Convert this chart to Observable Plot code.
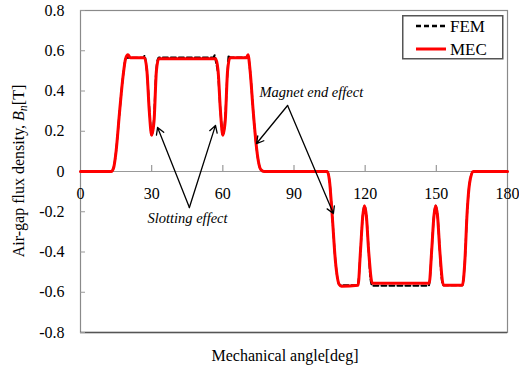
<!DOCTYPE html>
<html>
<head>
<meta charset="utf-8">
<script src="https://cdn.jsdelivr.net/npm/d3@7"></script>
<script src="https://cdn.jsdelivr.net/npm/@observablehq/plot@0.6"></script>
<style>
  html, body { margin: 0; padding: 0; background: #fff; }
  #wrap { position: relative; width: 519px; height: 370px; font-family: "Liberation Serif", "Times New Roman", serif; }
  #legend { position: absolute; left: 402px; top: 15px; }
</style>
</head>
<body>
<div id="wrap"></div>
<script>
// ---- data ----
const mecAngle = [0,13,14,15,16.5,18,19,20,21,27,28,29,30,31,32,33,57,58,59,60,61,62,63,70,70.6,71.5,72.8,74,75,76,77.5,104,105,106,107.5,109,110,117,118,119,119.7,120.5,121.5,123,147,148,149,149.7,150.5,151.5,153,161,162,163,164,165.5,180];
const mecValue = [0,0,0.02,0.1,0.3,0.48,0.56,0.58,0.565,0.565,0.5,0.3,0.18,0.25,0.5,0.56,0.56,0.5,0.3,0.18,0.25,0.5,0.565,0.565,0.58,0.5,0.3,0.14,0.05,0.01,0,0,-0.05,-0.2,-0.45,-0.56,-0.57,-0.565,-0.4,-0.22,-0.17,-0.22,-0.4,-0.555,-0.555,-0.4,-0.22,-0.17,-0.22,-0.4,-0.565,-0.565,-0.45,-0.2,-0.06,0,0];
const femAngle = [0,13,14,15,16.5,18,19,20,26.6,27,27.5,28.3,29.2,30,31,31.8,32.5,33,56,56.6,57,58,59,60,61,62,62.5,63,70,70.6,71.5,72.8,74,75,76,77.5,104,105,106,107.5,109,110,116.8,117.3,118,119,119.7,120.5,121.5,122.2,123,146.8,147.3,148,149,149.7,150.5,151.5,152.2,153,161,162,163,164,165.5,180];
const femValue = [0,0,0.02,0.1,0.3,0.48,0.56,0.565,0.565,0.575,0.55,0.45,0.28,0.18,0.27,0.48,0.555,0.566,0.566,0.578,0.55,0.48,0.3,0.18,0.27,0.5,0.578,0.566,0.566,0.575,0.5,0.3,0.14,0.05,0.01,0,0,-0.05,-0.2,-0.45,-0.56,-0.565,-0.565,-0.53,-0.4,-0.22,-0.17,-0.22,-0.4,-0.53,-0.568,-0.568,-0.53,-0.4,-0.22,-0.17,-0.22,-0.4,-0.53,-0.565,-0.565,-0.45,-0.2,-0.06,0,0];
const xTicks = [0,30,60,90,120,150,180];
const yTicks = [-0.8,-0.6,-0.4,-0.2,0,0.2,0.4,0.6,0.8];
const seriesNames = ["FEM","MEC"];
const xTitle = "Mechanical angle[deg]";
const yTitle = ["Air-gap flux density, ", "B", "n", "[T]"];
// annotations (data units)
const slotText = "Slotting effect";
const slotApex = [45.9, -0.179];
const slotTips = [[32.5, 0.219],[56.9, 0.229]];
const slotTextPos = [45.1, -0.232];
const magText = "Magnet end effect";
const magApex = [87.3, 0.328];
const magTips = [[74.2, 0.139],[106.6, -0.209]];
const magTextPos = [97.3, 0.393];

const mec = mecAngle.map((a,i)=>({a, v: mecValue[i]}));
const fem = femAngle.map((a,i)=>({a, v: femValue[i]}));

const plot = Plot.plot({
  width: 519, height: 370,
  marginLeft: 80, marginRight: 12, marginTop: 10, marginBottom: 38,
  style: {fontFamily: "'Liberation Serif', 'Times New Roman', serif", fontSize: "16px", background: "#fff", color: "#000"},
  x: {domain: [0,180], axis: null, label: null},
  y: {domain: [-0.8,0.8], label: null},
  marks: [
    Plot.frame({stroke: "#8a8a8a", strokeWidth: 1.2}),
    Plot.ruleY([-0.8], {stroke: "#555", strokeWidth: 1.6}),
    Plot.ruleY([0], {stroke: "#999", strokeWidth: 1.2}),
    Plot.ruleX(xTicks.slice(1,-1), {x: d=>d, y1: 0, y2: 0.03, stroke: "#999", strokeWidth: 1.2}),
    Plot.text(xTicks, {x: d=>d, y: 0, dy: 22, text: d=>String(d), fill: "#000", fontSize: 16}),
    Plot.axisY(yTicks, {tickSize: -5, tickPadding: 21, stroke: "#999", tickFormat: d => d === 0 ? "0" : d.toFixed(1), fontSize: 16, fill: "#000", label: null}),
    Plot.line(fem, {x: "a", y: "v", stroke: "#000", strokeWidth: 2, strokeDasharray: "5,3", curve: "monotone-x"}),
    Plot.line(mec, {x: "a", y: "v", stroke: "#ff0000", strokeWidth: 3, curve: "monotone-x"}),
    Plot.arrow(slotTips, {x1: () => slotApex[0], y1: () => slotApex[1], x2: d=>d[0], y2: d=>d[1], stroke: "#000", strokeWidth: 1.3, headLength: 9}),
    Plot.arrow(magTips, {x1: () => magApex[0], y1: () => magApex[1], x2: d=>d[0], y2: d=>d[1], stroke: "#000", strokeWidth: 1.3, headLength: 9}),
    Plot.text([slotText], {x: () => slotTextPos[0], y: () => slotTextPos[1], text: d=>d, fontStyle: "italic", fontSize: 14.5, fill: "#000"}),
    Plot.text([magText], {x: () => magTextPos[0], y: () => magTextPos[1], text: d=>d, fontStyle: "italic", fontSize: 14.5, fill: "#000"})
  ]
});

const wrap = document.getElementById("wrap");
wrap.appendChild(plot);

// axis titles
const svg = d3.select(plot);
svg.append("text")
  .attr("x", 285).attr("y", 361)
  .attr("text-anchor", "middle")
  .attr("font-size", 16).attr("fill", "#000")
  .text(xTitle);
const yt = svg.append("text")
  .attr("transform", "translate(24,171) rotate(-90)")
  .attr("text-anchor", "middle")
  .attr("font-size", 16).attr("fill", "#000");
yt.append("tspan").text(yTitle[0]);
yt.append("tspan").attr("font-style", "italic").text(yTitle[1]);
yt.append("tspan").attr("font-style", "italic").attr("font-size", 12).attr("dy", 3).text(yTitle[2]);
yt.append("tspan").attr("dy", -3).text(yTitle[3]);

// legend
const lg = d3.select(wrap).append("svg").attr("id", "legend").attr("width", 102).attr("height", 45);
lg.append("rect").attr("x", 0.75).attr("y", 0.75).attr("width", 100).attr("height", 43).attr("fill", "#fff").attr("stroke", "#555").attr("stroke-width", 1.5);
const styles = [{stroke: "#000", w: 2.5, dash: "5,3"}, {stroke: "#ff0000", w: 3, dash: null}];
seriesNames.forEach((name, i) => {
  const y = 11 + i * 23;
  lg.append("line").attr("x1", 14).attr("x2", 44).attr("y1", y).attr("y2", y)
    .attr("stroke", styles[i].stroke).attr("stroke-width", styles[i].w)
    .attr("stroke-dasharray", styles[i].dash);
  lg.append("text").attr("x", 48).attr("y", y).attr("dy", "0.35em")
    .attr("font-family", "'Liberation Serif', serif").attr("font-size", 17).attr("fill", "#000").text(name);
});
</script>
</body>
</html>
